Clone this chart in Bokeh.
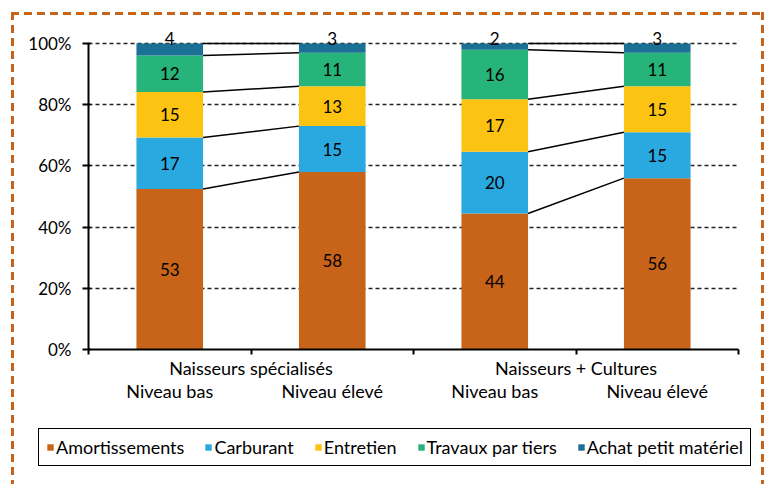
from bokeh.plotting import figure
from bokeh.models import (Range1d, FixedTicker, LinearAxis, Legend, LegendItem,
                          ColumnDataSource, Grid)
from bokeh.core.properties import value
from bokeh.embed import file_html
from bokeh.resources import INLINE

# ---- data ----
groups = ["Naisseurs spécialisés", "Naisseurs + Cultures"]
levels = ["Niveau bas", "Niveau élevé", "Niveau bas", "Niveau élevé"]
series = ["Amortissements", "Carburant", "Entretien", "Travaux par tiers", "Achat petit matériel"]
amortissements = [53, 58, 44, 56]
carburant = [17, 15, 20, 15]
entretien = [15, 13, 17, 15]
travaux = [12, 11, 16, 11]
achat = [4, 3, 2, 3]
y_ticks = [0, 20, 40, 60, 80, 100]
y_tick_labels = ["0%", "20%", "40%", "60%", "80%", "100%"]
colors = ["#C8641A", "#29A9E0", "#FDC312", "#27B47B", "#1B7096"]

FONT = "Lato"
FS = "17px"
FSX = "18px"

values = [amortissements, carburant, entretien, travaux, achat]
n = len(levels)
totals = [sum(v[i] for v in values) for i in range(n)]
pct = [[v[i] * 100.0 / totals[i] for i in range(n)] for v in values]
xs = [i + 0.5 for i in range(n)]
keys = ["s%d" % k for k in range(len(series))]
data = {"x": xs}
for k, col in zip(keys, pct):
    data[k] = col
source = ColumnDataSource(data)

# ---- layout (pixels) ----
CW, CH = 766, 484
AX_L, AX_R = 88, 738      # x of plot area left/right
AX_T, AX_B = 43, 349      # y of 100% and 0%
sx = (AX_R - AX_L) / n
sy = (AX_B - AX_T) / 100.0
x_range = Range1d(-AX_L / sx, n + (CW - AX_R) / sx)
y_range = Range1d(-(CH - AX_B) / sy, AX_B / sy)

W = 0.41

p = figure(width=CW, height=CH, output_backend="svg", toolbar_location=None,
           x_range=x_range, y_range=y_range,
           min_border=0, min_border_left=0, min_border_right=0,
           min_border_top=0, min_border_bottom=0,
           x_axis_type=None, y_axis_type=None)
p.outline_line_color = None
p.background_fill_alpha = 0
p.border_fill_alpha = 0
p.xgrid.visible = False
p.ygrid.visible = False

dash_h = "repeating-linear-gradient(to right, #C8641A 0px, #C8641A 8px, transparent 8px, transparent 13px)"
dash_v = "repeating-linear-gradient(to bottom, #C8641A 0px, #C8641A 8px, transparent 8px, transparent 13px)"
p.styles = {
    "background-color": "white",
    "background-image": ", ".join([dash_h, dash_v, dash_v]),
    "background-size": "754px 3px, 3px 480px, 3px 480px",
    "background-position": "11px 12px, 11px 12px, 761px 12px",
    "background-repeat": "no-repeat",
}

# grid lines
grid = Grid(dimension=1, ticker=FixedTicker(ticks=y_ticks[1:]),
            bounds=(0, 100), cross_bounds=(0, n))
grid.grid_line_color = "#222222"
grid.grid_line_width = 1.3
grid.grid_line_dash = "4 3"
p.add_layout(grid)

# y axis
yaxis = LinearAxis(ticker=FixedTicker(ticks=y_ticks), bounds=(0, 100), fixed_location=0,
                   major_label_overrides={t: l for t, l in zip(y_ticks, y_tick_labels)})
yaxis.axis_line_color = "black"
yaxis.axis_line_width = 2
yaxis.major_tick_line_color = "black"
yaxis.major_tick_line_width = 2
yaxis.major_tick_out = 6
yaxis.major_tick_in = 2
yaxis.minor_tick_line_color = None
yaxis.major_label_standoff = 11
yaxis.major_label_text_font = FONT
yaxis.major_label_text_font_size = FS
yaxis.major_label_text_color = "black"
p.add_layout(yaxis, "left")

# x axis (group labels on boundary ticks)
bound_ticks = list(range(n + 1))
group_over = {t: "" for t in bound_ticks}
group_over[1] = groups[0]
group_over[3] = groups[1]
xaxis = LinearAxis(ticker=FixedTicker(ticks=bound_ticks), bounds=(0, n), fixed_location=0,
                   major_label_overrides=group_over)
xaxis.axis_line_color = "black"
xaxis.axis_line_width = 2
xaxis.major_tick_line_color = "black"
xaxis.major_tick_line_width = 2
xaxis.major_tick_out = 5
xaxis.major_tick_in = 0
xaxis.minor_tick_line_color = None
xaxis.major_label_standoff = 2
xaxis.major_label_text_font = FONT
xaxis.major_label_text_font_size = FSX
xaxis.major_label_text_color = "black"
p.add_layout(xaxis, "below")

# x axis 2 (level labels)
xaxis2 = LinearAxis(ticker=FixedTicker(ticks=xs), fixed_location=0,
                    major_label_overrides={x: l for x, l in zip(xs, levels)})
xaxis2.axis_line_color = None
xaxis2.major_tick_line_color = None
xaxis2.minor_tick_line_color = None
xaxis2.major_tick_out = 0
xaxis2.major_tick_in = 0
xaxis2.major_label_standoff = 30
xaxis2.major_label_text_font = FONT
xaxis2.major_label_text_font_size = FSX
xaxis2.major_label_text_color = "black"
p.add_layout(xaxis2, "below")

# bars
renderers = p.vbar_stack(keys, x="x", width=W, color=colors, source=source,
                         line_color=None)

# connecting lines within groups
cums = []
for i in range(n):
    c = []
    acc = 0.0
    for k in range(len(series)):
        acc += pct[k][i]
        c.append(acc)
    cums.append(c)
x0s, x1s, y0s, y1s = [], [], [], []
for g in range(len(groups)):
    a, b = 2 * g, 2 * g + 1
    for k in range(len(series)):
        x0s.append(xs[a] + W / 2)
        x1s.append(xs[b] - W / 2)
        y0s.append(cums[a][k])
        y1s.append(cums[b][k])
p.segment(x0=x0s, y0=y0s, x1=x1s, y1=y1s, line_color="black", line_width=1.5)

# value labels
lx, ly, lt = [], [], []
for i in range(n):
    base = 0.0
    for k in range(len(series) - 1):
        lx.append(xs[i])
        ly.append(base + pct[k][i] / 2)
        lt.append(str(values[k][i]))
        base += pct[k][i]
p.text(x=lx, y=ly, text=lt, text_align="center", text_baseline="middle",
       text_font=value(FONT), text_font_size=FS, text_color="black")
p.text(x=xs, y=[100] * n, text=[str(v) for v in achat], text_align="center",
       text_baseline="middle", y_offset=-5,
       text_font=value(FONT), text_font_size=FS, text_color="black")

# legend
items = [LegendItem(label=s, renderers=[r]) for s, r in zip(series, renderers)]
legend = Legend(items=items, orientation="horizontal", location=(38, 18))
legend.label_text_font = FONT
legend.label_text_font_size = FSX
legend.label_text_color = "black"
legend.glyph_width = 8
legend.glyph_height = 8
legend.label_standoff = 2
legend.spacing = 20
legend.padding = 7
legend.margin = 0
legend.border_line_color = "black"
legend.border_line_width = 1
legend.border_line_alpha = 1
legend.background_fill_color = "white"
legend.background_fill_alpha = 1
p.add_layout(legend, "center")

open("out.html", "w").write(file_html(p, INLINE))
